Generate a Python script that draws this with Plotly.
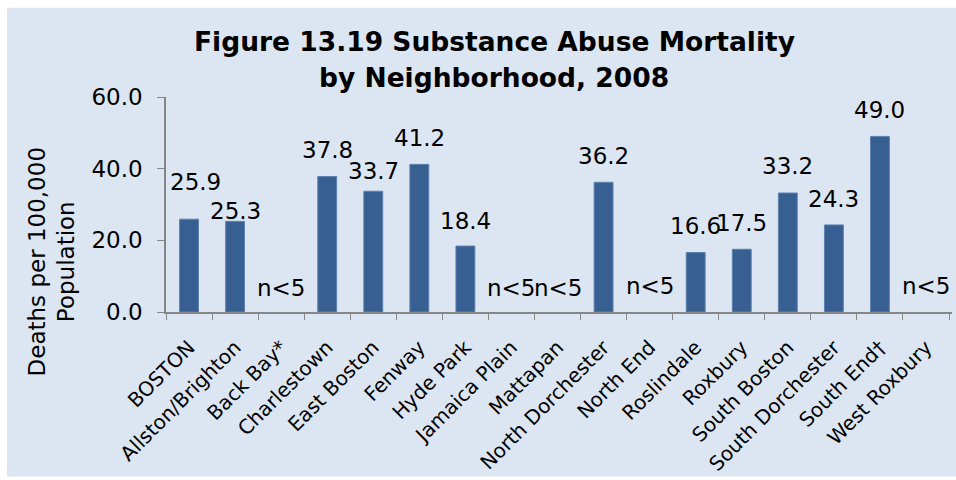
import plotly.graph_objects as go

# Substance abuse mortality per 100,000, Boston neighborhoods 2008
neighborhoods = ["BOSTON", "Allston/Brighton", "Back Bay*", "Charlestown", "East Boston",
                 "Fenway", "Hyde Park", "Jamaica Plain", "Mattapan", "North Dorchester",
                 "North End", "Roslindale", "Roxbury", "South Boston", "South Dorchester",
                 "South End\u2020", "West Roxbury"]
rates = [25.9, 25.3, 0, 37.8, 33.7, 41.2, 18.4, 0, 0, 36.2, 0, 16.6, 17.5, 33.2, 24.3, 49.0, 0]
labels = ["25.9", "25.3", "n<5", "37.8", "33.7", "41.2", "18.4", "n<5", "n<5", "36.2",
          "n<5", "16.6", "17.5", "33.2", "24.3", "49.0", "n<5"]
y_ticks = [0, 20, 40, 60]

# how far (px) each value label sits above its bar, as placed in the original
label_lift = [37, 10, 24, 27, 20, 26, 25, 24, 24, 26, 26, 27, 26, 27, 26, 26, 26]
label_nudge = [6, 0, 0, 0, 0, 0, 0, 0, 0, 0, 0, 0, 0, 0, 0, 0, 0]

W, H = 956, 480
L, R, T, B = 166, 4, 97, 166
PW, PH = W - L - R, H - T - B
bg = "#DCE6F2"
axis_grey = "#868686"
font = "DejaVu Sans, Arial, sans-serif"


def px_x(x):
    return (x - L) / PW


def px_y(y):
    return (H - B - y) / PH


fig = go.Figure()
fig.add_trace(go.Bar(
    x=neighborhoods, y=rates,
    marker=dict(color="#375F92",
                line=dict(color="#5D82B0", width=[1 if v > 0 else 0 for v in rates])),
))

for name, val, txt, lift, dx in zip(neighborhoods, rates, labels, label_lift, label_nudge):
    fig.add_annotation(x=name, y=val, text=txt, showarrow=False, yanchor="middle",
                       yshift=lift, xshift=dx, font=dict(size=23, color="black", family=font))

# light-blue panel with a thin white margin top/left
fig.add_shape(type="rect", xref="paper", yref="paper",
              x0=px_x(7), x1=px_x(W), y0=px_y(H), y1=px_y(7),
              fillcolor=bg, line=dict(width=0), layer="below")

# title, one annotation per line so the line spacing matches
for line, y in [("Figure 13.19 Substance Abuse Mortality", 41), ("by Neighborhood, 2008", 77)]:
    fig.add_annotation(text="<b>" + line + "</b>", xref="paper", yref="paper",
                       x=px_x(494), y=px_y(y), xanchor="center", yanchor="middle",
                       showarrow=False, font=dict(size=26.5, color="black", family=font))

fig.add_annotation(text="Deaths per 100,000<br>Population", textangle=-90,
                   xref="paper", yref="paper", x=px_x(52), y=px_y(264),
                   xanchor="center", yanchor="middle",
                   showarrow=False, font=dict(size=23, color="black", family=font))

fig.update_layout(
    width=W, height=H,
    margin=dict(l=L, r=R, t=T, b=B),
    paper_bgcolor="white", plot_bgcolor="rgba(0,0,0,0)",
    showlegend=False,
    bargap=0.59,
    font=dict(family=font, color="black"),
    xaxis=dict(tickangle=-45, tickson="boundaries", ticks="outside", ticklen=6,
               tickcolor=axis_grey, showline=True, linecolor=axis_grey, linewidth=1.5,
               showgrid=False, tickfont=dict(size=20), ticklabelstandoff=14),
    yaxis=dict(range=[0, 60], tickvals=y_ticks, tickformat=".1f", ticks="outside",
               ticklen=7, tickcolor=axis_grey, showline=True, linecolor=axis_grey,
               linewidth=1.5, showgrid=False, zeroline=False, tickfont=dict(size=23),
               ticklabelstandoff=10),
)

fig.write_html("out.html", config={"displayModeBar": False},
               post_script="document.body.style.margin='0';document.body.style.overflow='hidden';")
